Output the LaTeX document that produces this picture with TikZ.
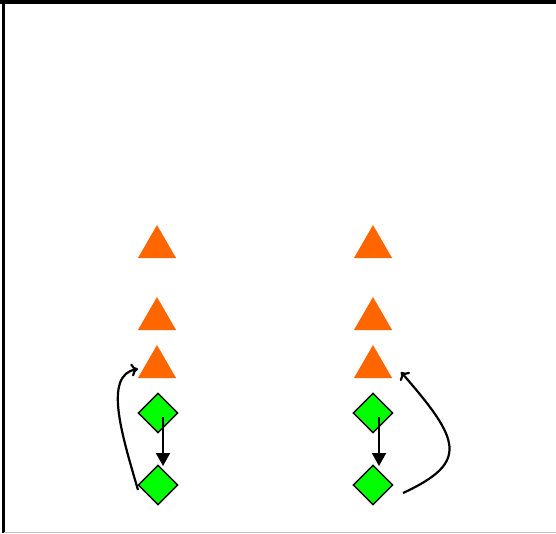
\documentclass[tikz,border=0pt]{standalone}
\usetikzlibrary{shapes.geometric,arrows.meta}
\begin{document}
\begin{tikzpicture}[x=1pt,y=-1pt,
  tri/.style={regular polygon,regular polygon sides=3,fill={rgb,255:red,255;green,102;blue,0},inner sep=0pt,minimum size=44pt,draw=none},
  dia/.style={diamond,draw=black,line width=1.4pt,fill={rgb,255:red,0;green,255;blue,0},inner sep=0pt,minimum size=40pt},
  straight/.style={line width=2pt,-{Triangle[length=13pt,width=14pt]}},
  curved/.style={line width=2.2pt,-{To[length=7pt,width=13pt,line width=2.2pt]}}]
\useasboundingbox (0,0) rectangle (556,533);
\fill[white] (0,0) rectangle (556,533);
\fill[black] (0,0) rectangle (556,4);
\fill[black] (2,0) rectangle (5,533);
\draw[gray!50,line width=1pt] (4,532.5) -- (556,532.5);
% left column
\node[tri] (lt1) at (157,247) {};
\node[tri] (lt2) at (157,319) {};
\node[tri] (lt3) at (157,367) {};
\node[dia] (ld1) at (158,413) {};
\node[dia] (ld2) at (158,485) {};
% right column
\node[tri] (rt1) at (373,247) {};
\node[tri] (rt2) at (373,319) {};
\node[tri] (rt3) at (373,367) {};
\node[dia] (rd1) at (373,413) {};
\node[dia] (rd2) at (373,485) {};
% arrows
\coordinate (ls) at (163,417);
\coordinate (le) at (163,466);
\draw[straight] (ls) -- (le);
\coordinate (rs) at (379,417);
\coordinate (re) at (379,466);
\draw[straight] (rs) -- (re);
\coordinate (lcs) at (138,490);
\coordinate (lce) at (138,369);
\draw[curved] (lcs) .. controls (122,435) and (103,375) .. (lce);
\coordinate (rcs) at (403,493);
\coordinate (rce) at (401,372);
\draw[curved] (rcs) .. controls (470,462) and (460,440) .. (rce);
\end{tikzpicture}
\end{document}
